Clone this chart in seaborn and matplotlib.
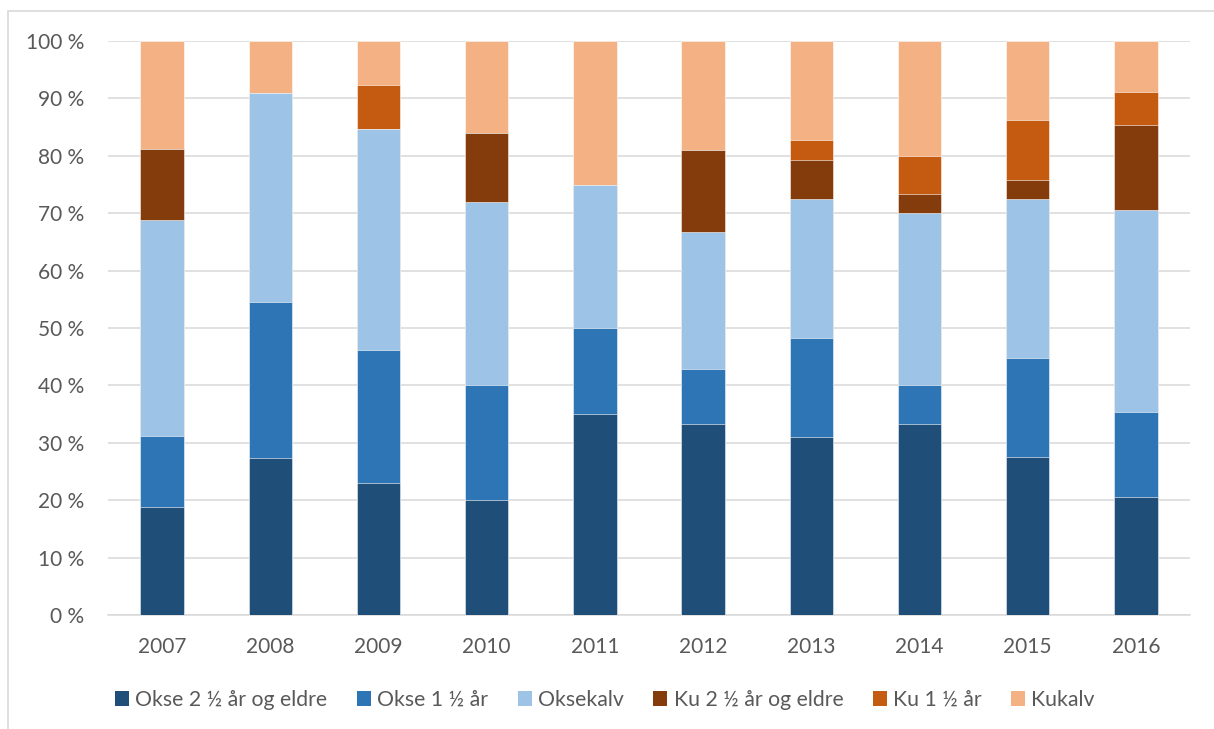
import matplotlib
matplotlib.use("Agg")
import matplotlib.pyplot as plt
from matplotlib.patches import Rectangle, Patch
from matplotlib.ticker import FuncFormatter
import numpy as np
import pandas as pd
import seaborn as sns

# Share of animals per category and year (percent)
years = ["2007", "2008", "2009", "2010", "2011", "2012", "2013", "2014", "2015", "2016"]
okse_2_5 = [18.75, 27.27, 23.08, 20.0, 35.0, 33.33, 31.03, 33.33, 27.59, 20.59]
okse_1_5 = [12.5, 27.27, 23.08, 20.0, 15.0, 9.52, 17.24, 6.67, 17.24, 14.71]
oksekalv = [37.5, 36.36, 38.46, 32.0, 25.0, 23.81, 24.14, 30.0, 27.59, 35.29]
ku_2_5 = [12.5, 0.0, 0.0, 12.0, 0.0, 14.29, 6.90, 3.33, 3.45, 14.71]
ku_1_5 = [0.0, 0.0, 7.69, 0.0, 0.0, 0.0, 3.45, 6.67, 10.34, 5.88]
kukalv = [18.75, 9.09, 7.69, 16.0, 25.0, 19.05, 17.24, 20.0, 13.79, 8.82]

series_names = ["Okse 2 ½ år og eldre", "Okse 1 ½ år", "Oksekalv",
                "Ku 2 ½ år og eldre", "Ku 1 ½ år", "Kukalv"]
series_values = [okse_2_5, okse_1_5, oksekalv, ku_2_5, ku_1_5, kukalv]
colors = ["#1F4E79", "#2E75B6", "#9DC3E6", "#843C0C", "#C55A11", "#F4B183"]

df = pd.DataFrame({name: vals for name, vals in zip(series_names, series_values)})
df["year"] = years
cumulative = df[series_names].cumsum(axis=1)

sns.set_style("white")
plt.rcParams["font.family"] = ["Lato", "DejaVu Sans"]

W, H = 1214, 729
fig = plt.figure(figsize=(W / 100, H / 100), dpi=100)
ax = fig.add_axes([108 / W, 1 - 615 / H, (1190 - 108) / W, (615 - 41) / H])

# Stacked bars: draw cumulative totals from the top layer down
for name, color in reversed(list(zip(series_names, colors))):
    sns.barplot(x=df["year"], y=cumulative[name], color=color, width=0.4,
                saturation=1, edgecolor="white", linewidth=0.4, ax=ax, zorder=3)

ax.set_ylim(0, 100)
ax.set_yticks(np.arange(0, 101, 10))
ax.yaxis.set_major_formatter(FuncFormatter(lambda v, p: f"{int(v)} %"))
ax.set_xlabel("")
ax.set_ylabel("")
ax.grid(axis="y", color="#D9D9D9", linewidth=1.1, zorder=0)
ax.set_axisbelow(True)
for side in ["top", "right", "left"]:
    ax.spines[side].set_visible(False)
ax.spines["bottom"].set_color("#D9D9D9")
ax.spines["bottom"].set_linewidth(1.1)
ax.tick_params(axis="both", length=0, labelsize=15, labelcolor="#595959")
ax.tick_params(axis="y", pad=17)
ax.tick_params(axis="x", pad=16)

handles = [Patch(facecolor=c, edgecolor="none") for c in colors]
fig.legend(handles, series_names, loc="center", bbox_to_anchor=(605 / W, 1 - 700 / H),
           ncol=6, frameon=False, fontsize=15.3, labelcolor="#595959",
           handlelength=0.66, handleheight=0.66, handletextpad=0.3, columnspacing=1.38,
           borderpad=0, borderaxespad=0)

# Chart-area frame
fig.add_artist(Rectangle((8 / W, -0.1), 1.2, 0.1 + 1 - 11 / H, transform=fig.transFigure,
                         fill=False, edgecolor="#D9D9D9", linewidth=1.2))

fig.savefig("out.png", dpi=100, facecolor="white")
